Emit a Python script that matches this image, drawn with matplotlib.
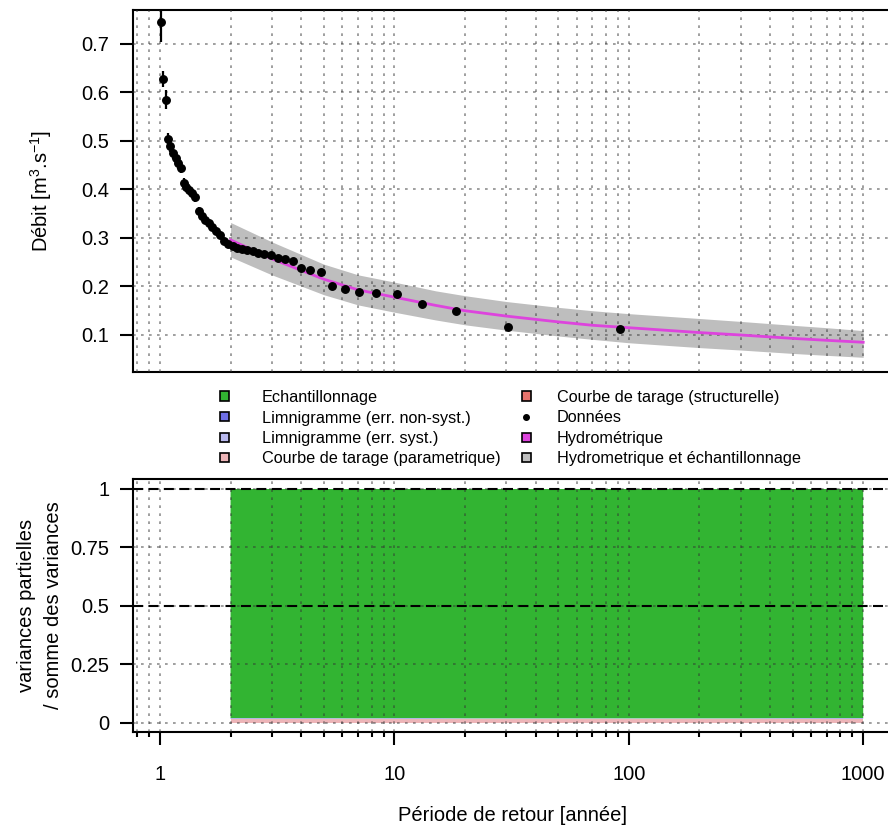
import numpy as np
import matplotlib
matplotlib.use("Agg")
import matplotlib.pyplot as plt
from matplotlib.patches import Rectangle
from matplotlib.lines import Line2D
from matplotlib.ticker import FixedLocator, NullFormatter

plt.rcParams['font.family'] = ['Liberation Sans', 'DejaVu Sans']
plt.rcParams['mathtext.fontset'] = 'custom'
plt.rcParams['mathtext.rm'] = 'Liberation Sans'
plt.rcParams['mathtext.it'] = 'Liberation Sans:italic'
plt.rcParams['mathtext.default'] = 'regular'

# ---------------- data ----------------
# observed (return period [years], discharge [m3/s], error half-width)
T_obs = [92.0, 30.67, 18.4, 13.14, 10.22, 8.364, 7.077, 6.133, 5.412, 4.842,
         4.381, 4.0, 3.68, 3.407, 3.172, 2.967, 2.788, 2.629, 2.487, 2.358,
         2.244, 2.140, 2.044, 1.957, 1.878, 1.804, 1.736, 1.673, 1.614, 1.559,
         1.508, 1.460, 1.415, 1.373, 1.333, 1.296, 1.260, 1.227, 1.195, 1.165,
         1.136, 1.108, 1.082, 1.058, 1.034, 1.011]
Q_obs = [0.113, 0.116, 0.149, 0.164, 0.184, 0.186, 0.189, 0.194, 0.201, 0.229,
         0.235, 0.239, 0.252, 0.256, 0.259, 0.264, 0.267, 0.270, 0.273, 0.275,
         0.277, 0.280, 0.283, 0.288, 0.293, 0.307, 0.315, 0.322, 0.330, 0.337,
         0.345, 0.355, 0.385, 0.392, 0.398, 0.405, 0.413, 0.445, 0.455, 0.465,
         0.475, 0.490, 0.505, 0.585, 0.628, 0.745]
Q_err = [0.004, 0.004, 0.004, 0.004, 0.004, 0.004, 0.004, 0.004, 0.004, 0.004,
         0.004, 0.004, 0.004, 0.004, 0.004, 0.004, 0.004, 0.004, 0.004, 0.004,
         0.004, 0.004, 0.004, 0.004, 0.004, 0.008, 0.008, 0.008, 0.008, 0.008,
         0.008, 0.008, 0.010, 0.010, 0.010, 0.010, 0.010, 0.012, 0.012, 0.012,
         0.012, 0.012, 0.012, 0.020, 0.016, 0.041]

# fitted quantile curve and uncertainty band
T_fit = [2, 3, 5, 7, 10, 15, 20, 30, 50, 70, 100, 200, 300, 500, 700, 1000]
Q_fit = [0.296, 0.257, 0.215, 0.193, 0.178, 0.161, 0.150, 0.139, 0.127, 0.120,
         0.115, 0.105, 0.100, 0.093, 0.089, 0.085]
Q_low = [0.261, 0.224, 0.183, 0.162, 0.147, 0.131, 0.121, 0.110, 0.098, 0.091,
         0.084, 0.074, 0.069, 0.062, 0.058, 0.054]
Q_up = [0.332, 0.292, 0.246, 0.224, 0.209, 0.191, 0.181, 0.169, 0.157, 0.150,
        0.144, 0.134, 0.128, 0.120, 0.115, 0.109]

# variance decomposition (fractions of total variance)
frac_struct = [0.002, 0.002, 0.002, 0.002, 0.002, 0.002, 0.002, 0.002, 0.002, 0.002,
               0.002, 0.002, 0.002, 0.002, 0.002, 0.002]
frac_param = [0.016, 0.016, 0.016, 0.016, 0.016, 0.016, 0.016, 0.016, 0.016, 0.016,
              0.016, 0.016, 0.016, 0.016, 0.016, 0.016]
frac_syst = [0.001, 0.001, 0.001, 0.001, 0.001, 0.001, 0.001, 0.001, 0.001, 0.001,
             0.001, 0.001, 0.001, 0.001, 0.001, 0.001]
frac_nonsyst = [0.002, 0.002, 0.002, 0.001, 0.002, 0.002, 0.001, 0.001, 0.001, 0.001,
                0.001, 0.001, 0.001, 0.002, 0.002, 0.002]
frac_ech = [0.979, 0.979, 0.979, 0.980, 0.979, 0.979, 0.980, 0.980, 0.980, 0.980,
            0.980, 0.980, 0.980, 0.979, 0.979, 0.979]

legend_labels = ["Echantillonnage", "Limnigramme (err. non-syst.)",
                 "Limnigramme (err. syst.)", "Courbe de tarage (parametrique)",
                 "Courbe de tarage (structurelle)", "Données",
                 "Hydrométrique", "Hydrometrique et échantillonnage"]
legend_colors = ["#32B432", "#6E6EE6", "#B9B9EE", "#EDB5B8",
                 "#E8736C", None, "#DD44DD", "#BEBEBE"]

col_ech, col_nonsyst, col_syst, col_param, col_struct = legend_colors[:5]
col_hydro, col_band = legend_colors[6], legend_colors[7]

x_major = [1, 10, 100, 1000]
x_minor = [0.8, 0.9, 2, 3, 4, 5, 6, 7, 8, 9, 20, 30, 40, 50, 60, 70, 80, 90,
           200, 300, 400, 500, 600, 700, 800, 900]
y1_ticks = [0.1, 0.2, 0.3, 0.4, 0.5, 0.6, 0.7]
y2_ticks = [0, 0.25, 0.5, 0.75, 1]
y2_labels = ["0", "0.25", "0.5", "0.75", "1"]

# ---------------- layout ----------------
W, H = 888, 834
fig = plt.figure(figsize=(W / 100, H / 100), dpi=100)


def box(l, t, r, b):
    return [l / W, 1 - b / H, (r - l) / W, (b - t) / H]


ax1 = fig.add_axes(box(133, 10, 888, 372))
ax2 = fig.add_axes(box(133, 479, 888, 732))

xlim = (10 ** ((133 - 160) / 234.4), 10 ** ((888 - 160) / 234.4))
FS = 14.5
grid_kw = dict(color='#333333', alpha=0.55, lw=1.2, linestyle=(0, (1.6, 3.2)))

for ax in (ax1, ax2):
    ax.set_xscale('log')
    ax.set_xlim(*xlim)
    ax.xaxis.set_major_locator(FixedLocator(x_major))
    ax.xaxis.set_minor_locator(FixedLocator(x_minor))
    ax.xaxis.set_minor_formatter(NullFormatter())
    ax.spines['right'].set_visible(False)
    for s in ('left', 'top', 'bottom'):
        ax.spines[s].set_linewidth(1.5)
    ax.set_axisbelow(False)
    ax.grid(True, which='both', axis='x', zorder=2.5, **grid_kw)
    ax.grid(True, which='major', axis='y', zorder=2.5, **grid_kw)

# ---- top panel ----
ax1.fill_between(T_fit, Q_low, Q_up, color=col_band, lw=0, zorder=1)
ax1.plot(T_fit, Q_fit, color=col_hydro, lw=2, zorder=3)
ax1.errorbar(T_obs, Q_obs, yerr=Q_err, fmt='o', color='black', ms=5.4,
             elinewidth=1.6, capsize=0, zorder=4)
ax1.set_ylim(0.0237, 0.770)
ax1.set_yticks(y1_ticks)
ax1.set_yticklabels([f"{v:.1f}" for v in y1_ticks])
ax1.tick_params(axis='x', which='both', length=0, labelbottom=False)
ax1.tick_params(axis='y', length=9.4, width=1.5, labelsize=FS, pad=7.5)
ax1.set_ylabel(r"Débit [m$^{3}$.s$^{-1}$]", fontsize=FS)
ax1.yaxis.set_label_coords(-0.105, 0.5)

# ---- bottom panel ----
ax2.stackplot(T_fit, frac_struct, frac_param, frac_syst, frac_nonsyst, frac_ech,
              colors=[col_struct, col_param, col_syst, col_nonsyst, col_ech],
              lw=0, zorder=1)
ax2.axhline(0.5, color='black', lw=1.5, linestyle=(0, (4.8, 2.6)), zorder=3)
ax2.axhline(1.0, color='black', lw=1.5, linestyle=(0, (4.8, 2.6)), zorder=3)
ax2.set_ylim(-0.0385, 1.0427)
ax2.set_yticks(y2_ticks)
ax2.set_yticklabels(y2_labels)
ax2.set_xticklabels([str(v) for v in x_major])
ax2.tick_params(axis='y', length=9.4, width=1.5, labelsize=FS, pad=7.5)
ax2.tick_params(axis='x', which='major', length=9.4, width=1.5, labelsize=FS, pad=14)
ax2.tick_params(axis='x', which='minor', length=3.6, width=1.5)
ax2.set_ylabel("variances partielles\n/ somme des variances", fontsize=FS,
               linespacing=1.5)
ax2.yaxis.set_label_coords(-0.093, 0.5)
ax2.set_xlabel("Période de retour [année]", fontsize=FS)
ax2.xaxis.set_label_coords((512 - 133) / 755, (732 - 806) / 253)

# ---- legend (drawn in figure pixel space) ----
LFS = 11.7
rows_y = [396, 416.5, 437, 457.5]
cols = [(224, 262), (526, 557)]
sq = 9
for k, (lab, colr) in enumerate(zip(legend_labels, legend_colors)):
    c, r = divmod(k, 4)
    mx, tx = cols[c]
    y = rows_y[r]
    if colr is None:
        fig.add_artist(Line2D([mx / W], [1 - y / H], marker='o', ms=4,
                              color='black', lw=0, transform=fig.transFigure))
    else:
        fig.add_artist(Rectangle(((mx - sq / 2) / W, 1 - (y + sq / 2) / H),
                                 sq / W, sq / H, facecolor=colr,
                                 edgecolor='black', lw=1.2,
                                 transform=fig.transFigure))
    fig.text(tx / W, 1 - y / H, lab, fontsize=LFS, ha='left', va='center_baseline')

fig.savefig("out.png", dpi=100)
